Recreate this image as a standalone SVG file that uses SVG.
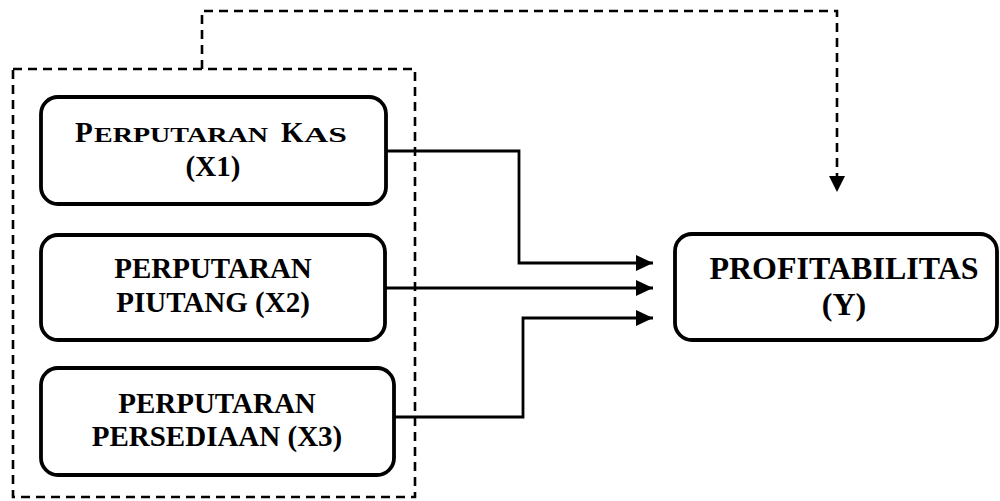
<svg xmlns="http://www.w3.org/2000/svg" width="1000" height="501" viewBox="0 0 1000 501">
  <style>
    .node { fill: #fff; stroke: #000; stroke-width: 3.8; }
    .lbl { font-family: "Liberation Serif", "Times New Roman", serif; font-weight: bold; fill: #000; font-size: 29px; }
    .big { font-size: 32px; }
    .sc { font-size: 21.5px; }
    .link { fill: none; stroke: #000; stroke-width: 2.8; }
    .dash { fill: none; stroke: #000; stroke-width: 2.6; stroke-dasharray: 9 6; }
  </style>
  <defs>
    <marker id="arrow" markerUnits="userSpaceOnUse" markerWidth="17" markerHeight="16" refX="17" refY="8" orient="auto">
      <path d="M0,0 L17,8 L0,16 Z" fill="#000"/>
    </marker>
  </defs>

  <!-- grouping frame around the independent variables -->
  <rect id="frame" class="dash" x="13" y="69" width="402" height="428"/>

  <g id="connectors">
    <!-- simultaneous effect from the frame to Y -->
    <path class="dash" d="M202,69 V11 H837 V177"/>
    <path d="M829,176 L845,176 L837,192 Z" fill="#000"/>
    <!-- individual effects -->
    <path class="link" d="M386,151 H519 V263 H653" marker-end="url(#arrow)"/>
    <path class="link" d="M385,288 H653" marker-end="url(#arrow)"/>
    <path class="link" d="M394,417 H523 V318 H653" marker-end="url(#arrow)"/>
  </g>

  <g id="x1">
    <rect class="node" x="41" y="97" width="345" height="107" rx="17"/>
    <text class="lbl" x="75" y="142">P</text>
    <text class="lbl sc" x="94" y="142" textLength="174" lengthAdjust="spacingAndGlyphs">ERPUTARAN</text>
    <text class="lbl" x="281" y="142">K</text>
    <text class="lbl sc" x="304" y="142" textLength="43" lengthAdjust="spacingAndGlyphs">AS</text>
    <text class="lbl" x="213" y="176" text-anchor="middle">(X1)</text>
  </g>

  <g id="x2">
    <rect class="node" x="41" y="235" width="344" height="105" rx="17"/>
    <text class="lbl" x="213" y="278" text-anchor="middle">PERPUTARAN</text>
    <text class="lbl" x="213" y="312" text-anchor="middle">PIUTANG (X2)</text>
  </g>

  <g id="x3">
    <rect class="node" x="41" y="368" width="353" height="107" rx="17"/>
    <text class="lbl" x="217" y="413" text-anchor="middle">PERPUTARAN</text>
    <text class="lbl" x="217" y="446" text-anchor="middle">PERSEDIAAN (X3)</text>
  </g>

  <g id="y">
    <rect class="node" x="675" y="234" width="322" height="106" rx="17"/>
    <text class="lbl big" x="844" y="279" text-anchor="middle">PROFITABILITAS</text>
    <text class="lbl big" x="844" y="315" text-anchor="middle">(Y)</text>
  </g>
</svg>
